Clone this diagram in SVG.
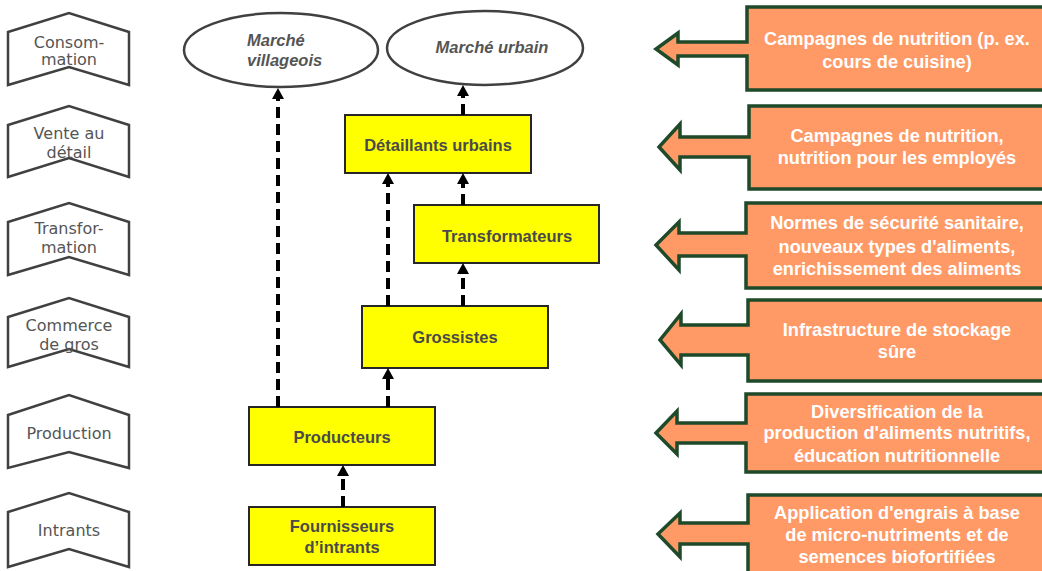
<svg xmlns="http://www.w3.org/2000/svg" width="1042" height="571" viewBox="0 0 1042 571">
<style>
.stage{fill:#fff;stroke:#404040;stroke-width:2.5;stroke-linejoin:miter}
.stxt{font-family:"DejaVu Sans",Verdana,sans-serif;font-size:16px;fill:#555;text-anchor:middle}
.mkt{fill:#fff;stroke:#404040;stroke-width:2.5}
.mtxt{font-family:"Liberation Sans",Arial,sans-serif;font-size:16.5px;font-weight:bold;font-style:italic;fill:#555}
.box{fill:#ffff00;stroke:#262626;stroke-width:2}
.btxt{font-family:"Liberation Sans",Arial,sans-serif;font-size:16.5px;font-weight:bold;fill:#4a4a4a;text-anchor:middle}
.call{fill:#ff9966;stroke:#1e4a2a;stroke-width:3.5;stroke-linejoin:miter}
.ctxt{font-family:"Liberation Sans",Arial,sans-serif;font-size:18.2px;font-weight:bold;fill:#fff;text-anchor:middle}
.conn{stroke:#000;stroke-width:4;stroke-dasharray:11,6;fill:none}
</style>
<defs>
<marker id="ah" markerUnits="userSpaceOnUse" viewBox="0 -6 11 12" refX="0" refY="0" markerWidth="11" markerHeight="12" orient="auto">
<path d="M0,-6 L11,0 L0,6 z" fill="#000"/>
</marker>
</defs>
<rect width="1042" height="571" fill="#fff"/>

<g id="stage-consommation">
<polygon class="stage" points="8,32 69,13 129,32 129,85 69,67 8,85"/>
<text class="stxt" x="69" y="48" font-size="14.5">Consom-</text>
<text class="stxt" x="69" y="65" font-size="14.5">mation</text>
</g>
<g id="stage-vente">
<polygon class="stage" points="8,125 69,106 129,125 129,177 69,158 8,177"/>
<text class="stxt" x="69" y="139">Vente au</text>
<text class="stxt" x="69" y="158">détail</text>
</g>
<g id="stage-transformation">
<polygon class="stage" points="8,222 69,203 129,222 129,275 69,257 8,275"/>
<text class="stxt" x="69" y="234">Transfor-</text>
<text class="stxt" x="69" y="253">mation</text>
</g>
<g id="stage-commerce">
<polygon class="stage" points="8,317 69,298 129,317 129,367 69,349 8,367"/>
<text class="stxt" x="69" y="331">Commerce</text>
<text class="stxt" x="69" y="350">de gros</text>
</g>
<g id="stage-production">
<polygon class="stage" points="8,415 69,395 129,415 129,468 69,452 8,468"/>
<text class="stxt" x="69" y="439">Production</text>
</g>
<g id="stage-intrants">
<polygon class="stage" points="8,512 69,493 129,512 129,567 69,549 8,567"/>
<text class="stxt" x="69" y="536" font-size="14">Intrants</text>
</g>

<g id="marche-villageois">
<ellipse class="mkt" cx="281" cy="50" rx="97" ry="37"/>
<text class="mtxt" x="247" y="46">Marché</text>
<text class="mtxt" x="247" y="66">villageois</text>
</g>
<g id="marche-urbain">
<ellipse class="mkt" cx="485" cy="48" rx="98" ry="37"/>
<text class="mtxt" x="492" y="53" text-anchor="middle">Marché urbain</text>
</g>

<g id="detaillants">
<rect class="box" x="345" y="115" width="186" height="58"/>
<text class="btxt" x="438" y="151">Détaillants urbains</text>
</g>
<g id="transformateurs">
<rect class="box" x="414" y="205" width="185" height="58"/>
<text class="btxt" x="507" y="242">Transformateurs</text>
</g>
<g id="grossistes">
<rect class="box" x="362" y="306" width="186" height="62"/>
<text class="btxt" x="455" y="343">Grossistes</text>
</g>
<g id="producteurs">
<rect class="box" x="249" y="407" width="186" height="58"/>
<text class="btxt" x="342" y="443">Producteurs</text>
</g>
<g id="fournisseurs">
<rect class="box" x="249" y="507" width="186" height="58"/>
<text class="btxt" x="342" y="532">Fournisseurs</text>
<text class="btxt" x="342" y="553">d’intrants</text>
</g>

<g id="connectors">
<line class="conn" x1="278" y1="407" x2="278" y2="99" marker-end="url(#ah)"/>
<line class="conn" x1="463" y1="115" x2="463" y2="96" marker-end="url(#ah)"/>
<line class="conn" x1="388" y1="306" x2="388" y2="184" marker-end="url(#ah)"/>
<line class="conn" x1="463" y1="205" x2="463" y2="184" marker-end="url(#ah)"/>
<line class="conn" x1="463" y1="306" x2="463" y2="274" marker-end="url(#ah)"/>
<line class="conn" x1="388" y1="407" x2="388" y2="379" marker-end="url(#ah)"/>
<line class="conn" x1="343" y1="507" x2="343" y2="476" marker-end="url(#ah)"/>
</g>

<g id="action-consommation">
<path class="call" d="M747,7 H1050 V90 H747 V56 H678 V65 L656,49 L678,33 V42 H747 Z"/>
<text class="ctxt" x="897" y="45">Campagnes de nutrition (p. ex.</text>
<text class="ctxt" x="897" y="68">cours de cuisine)</text>
</g>
<g id="action-vente">
<path class="call" d="M749,106 H1050 V189 H749 V157 H680 V170 L659,147 L680,124 V137 H749 Z"/>
<text class="ctxt" x="897" y="142">Campagnes de nutrition,</text>
<text class="ctxt" x="897" y="164">nutrition pour les employés</text>
</g>
<g id="action-transformation">
<path class="call" d="M746,203 H1050 V288 H746 V256 H679 V270 L656,245 L679,222 V233 H746 Z"/>
<text class="ctxt" x="897" y="229">Normes de sécurité sanitaire,</text>
<text class="ctxt" x="897" y="253">nouveaux types d'aliments,</text>
<text class="ctxt" x="897" y="275">enrichissement des aliments</text>
</g>
<g id="action-commerce">
<path class="call" d="M748,300 H1050 V381 H748 V355 H681 V365 L660,340 L681,314 V325 H748 Z"/>
<text class="ctxt" x="897" y="336">Infrastructure de stockage</text>
<text class="ctxt" x="897" y="358">sûre</text>
</g>
<g id="action-production">
<path class="call" d="M746,394 H1050 V472 H746 V443 H677 V454 L656,433 L677,411 V423 H746 Z"/>
<text class="ctxt" x="897" y="418">Diversification de la</text>
<text class="ctxt" x="897" y="439">production d'aliments nutritifs,</text>
<text class="ctxt" x="897" y="462">éducation nutritionnelle</text>
</g>
<g id="action-intrants">
<path class="call" d="M748,495 H1050 V590 H748 V544 H680 V557 L658,534 L680,513 V523 H748 Z"/>
<text class="ctxt" x="897" y="519">Application d'engrais à base</text>
<text class="ctxt" x="897" y="541">de micro-nutriments et de</text>
<text class="ctxt" x="897" y="563">semences biofortifiées</text>
</g>
</svg>
